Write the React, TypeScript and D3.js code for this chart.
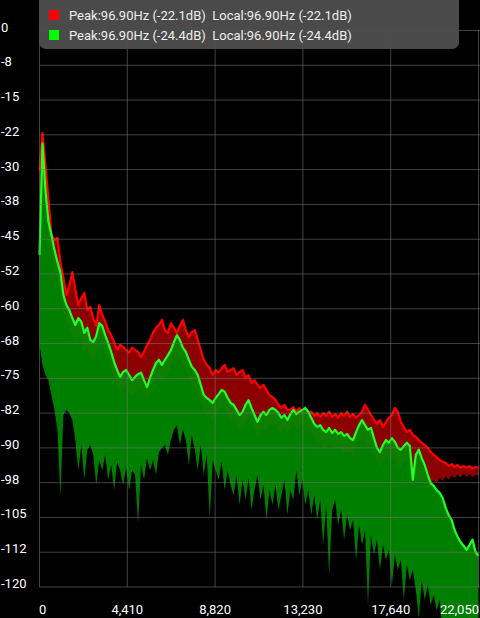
import React, { useEffect, useRef } from 'react';
import * as d3 from 'd3';

const W = 480;
const H = 618;

// FFT bins, 150 Hz apart (0 .. 22050 Hz)
const freqs = d3.range(0, 22051, 150);

// channel 1 (red): peak hold and lower edge of the band, dB
const redPeak = [
  -30.1, -22.1, -29.0, -36.5, -44.1, -45.2, -44.7, -49.9, -53.4, -57.0,
  -54.9, -52.1, -55.9, -59.2, -57.7, -56.6, -60.3, -59.6, -62.0, -63.7,
  -59.2, -61.3, -62.8, -64.6, -65.7, -67.2, -68.9, -67.8, -68.2, -68.9,
  -69.5, -68.4, -68.9, -69.3, -70.4, -69.3, -67.8, -66.7, -65.2, -64.1,
  -63.5, -62.4, -64.6, -65.2, -63.1, -64.1, -65.2, -63.7, -62.4, -64.6,
  -66.1, -65.0, -64.6, -66.7, -68.9, -71.0, -72.1, -72.8, -74.3, -73.2,
  -73.8, -72.8, -72.1, -73.6, -73.2, -72.8, -74.3, -73.6, -73.2, -74.9,
  -74.3, -76.0, -75.4, -76.4, -77.1, -76.4, -77.5, -78.6, -79.0, -79.7,
  -80.7, -81.4, -80.7, -81.8, -81.8, -81.2, -82.2, -81.4, -82.2, -81.8,
  -82.9, -82.2, -83.1, -82.5, -83.3, -82.5, -83.1, -82.2, -83.3, -82.7,
  -83.5, -82.5, -83.1, -82.2, -83.3, -82.7, -83.5, -82.9, -82.2, -80.7,
  -81.8, -82.9, -84.0, -84.8, -84.0, -85.5, -84.4, -83.5, -82.9, -81.4,
  -82.2, -84.4, -85.5, -86.6, -86.1, -87.2, -87.6, -88.3, -88.9, -89.4,
  -90.0, -90.9, -91.5, -92.0, -92.6, -93.0, -93.2, -93.9, -93.5, -94.1,
  -93.7, -94.3, -93.9, -94.3, -93.9, -94.5, -94.1, -94.3,
];
const redFloor = [
  -52, -30, -38, -45, -48, -51, -54, -56, -61, -63,
  -64, -66, -67, -66, -67, -69, -68, -70, -71, -70,
  -67, -68, -70, -71, -73, -75, -77, -78, -77, -77,
  -78, -79, -78, -78, -77, -79, -80, -78, -77, -75,
  -75, -76, -75, -74, -73, -71, -70, -71, -72, -73,
  -75, -76, -77, -78, -80, -82, -83, -83, -84, -83,
  -82, -81, -82, -83, -84, -84, -85, -86, -86, -84,
  -83, -85, -86, -88, -86, -86, -86, -85, -85, -85,
  -86, -87, -86, -87, -86, -85, -86, -86, -85, -85,
  -86, -87, -88, -89, -89, -90, -90, -89, -90, -90,
  -90, -90, -91, -91, -91, -92, -90, -89, -88, -89,
  -90, -89, -91, -93, -94, -93, -92, -93, -92, -92,
  -94, -94, -93, -93, -94, -97.5, -96.8, -97.2, -96.5, -97.4,
  -96.9, -97.8, -97.0, -97.6, -96.4, -97.1, -96.2, -96.8, -95.9, -96.5,
  -95.8, -96.4, -95.6, -96.2, -95.7, -96.3, -95.8, -96.0,
];

// channel 2 (green)
const greenPeak = [
  -48.4, -24.4, -34.4, -41.3, -44.1, -47.3, -49.9, -52.1, -57.0, -59.2,
  -60.3, -62.0, -63.5, -62.0, -62.8, -65.2, -64.1, -66.7, -67.2, -65.9,
  -63.1, -63.7, -65.7, -67.4, -69.3, -71.5, -73.2, -74.7, -73.6, -73.2,
  -74.3, -75.4, -74.7, -74.1, -73.8, -75.4, -76.9, -74.9, -73.2, -71.7,
  -71.0, -72.1, -71.0, -70.0, -68.9, -67.2, -65.7, -66.7, -68.4, -69.3,
  -71.0, -72.5, -73.2, -74.3, -76.4, -78.6, -79.2, -79.7, -80.3, -79.2,
  -78.4, -77.5, -77.9, -79.2, -80.3, -80.7, -81.8, -82.9, -82.2, -80.7,
  -79.7, -81.4, -82.9, -84.4, -82.9, -82.2, -82.9, -81.8, -81.4, -81.8,
  -82.5, -83.5, -82.9, -84.0, -82.7, -81.8, -82.7, -82.2, -81.8, -81.4,
  -82.2, -83.5, -84.8, -85.5, -85.1, -86.1, -86.6, -85.7, -86.8, -86.1,
  -87.0, -86.6, -87.4, -87.0, -87.9, -88.3, -86.6, -85.1, -84.0, -85.1,
  -86.1, -85.7, -87.9, -90.0, -90.9, -89.4, -88.3, -88.9, -87.9, -88.7,
  -90.0, -90.4, -89.6, -88.9, -89.6, -96.9, -91.5, -90.4, -92.2, -93.7,
  -95.8, -97.6, -98.2, -99.1, -99.7, -100.8, -102.9, -104.5, -105.5, -107.7,
  -109.2, -110.3, -111.1, -112.0, -110.9, -109.8, -112.4, -113.3,
];
const greenFloor = [
  -67.8, -72.1, -74.3, -75.4, -78.6, -81.8, -86.1, -100.6, -82.9, -81.8,
  -82.5, -84.0, -88.3, -94.8, -89.4, -96.9, -90.4, -89.4, -91.5, -98.0,
  -92.6, -94.8, -91.5, -96.9, -93.7, -99.1, -93.0, -94.8, -98.0, -94.3,
  -99.1, -94.8, -95.8, -106.2, -93.7, -96.9, -92.2, -94.8, -92.6, -95.8,
  -90.9, -90.0, -89.4, -91.5, -88.3, -86.1, -85.1, -89.4, -86.1, -88.3,
  -93.7, -87.2, -90.4, -94.8, -89.4, -95.8, -91.5, -105.1, -92.6, -94.8,
  -96.9, -93.0, -99.1, -94.8, -98.0, -100.2, -95.8, -102.3, -96.9, -101.2,
  -96.5, -103.4, -99.1, -95.8, -101.2, -98.0, -105.5, -99.1, -102.3, -98.0,
  -103.4, -100.2, -96.9, -104.5, -99.1, -101.2, -94.8, -100.2, -96.9, -102.3,
  -99.1, -104.5, -100.2, -105.5, -101.2, -110.9, -102.3, -117.4, -103.4, -101.2,
  -106.6, -103.4, -109.8, -104.5, -107.7, -105.5, -114.2, -106.6, -110.9, -107.7,
  -123.9, -108.8, -113.1, -109.8, -116.3, -110.9, -114.2, -112.0, -119.6, -113.1,
  -116.3, -114.2, -122.8, -115.2, -118.5, -116.3, -120.6, -126.7, -118.5, -122.8,
  -119.6, -123.9, -121.7, -125.0, -122.8, -130, -130, -130, -130, -130,
  -130, -130, -130, -130, -130, -130, -130, -130,
];

const xTicks = [0, 4410, 8820, 13230, 17640, 22050];
const xTickLabels = ['0', '4,410', '8,820', '13,230', '17,640', '22,050'];
const yTicks = [0, -7.5, -15, -22.5, -30, -37.5, -45, -52.5, -60, -67.5, -75, -82.5, -90, -97.5, -105, -112.5, -120];
const yTickLabels = ['0', '-8', '-15', '-22', '-30', '-38', '-45', '-52', '-60', '-68', '-75', '-82', '-90', '-98', '-105', '-112', '-120'];

const legendColors = ['#ff0000', '#00ff00'];
const legendLabels = [
  'Peak:96.90Hz (-22.1dB)  Local:96.90Hz (-22.1dB)',
  'Peak:96.90Hz (-24.4dB)  Local:96.90Hz (-24.4dB)',
];

const FONT = 'Roboto, "Noto Sans", sans-serif';

const App: React.FC = () => {
  const ref = useRef<SVGSVGElement>(null);

  useEffect(() => {
    if (!ref.current) return;
    const svg = d3.select(ref.current);
    svg.selectAll('*').remove();

    const x = d3.scaleLinear().domain([0, 22050]).range([39.5, 478.5]);
    const y = d3.scaleLinear().domain([0, -120]).range([30.5, 587]);

    svg.append('rect').attr('width', W).attr('height', H).attr('fill', '#000');

    const band = (lo: number[], hi: number[]) =>
      d3
        .area<number>()
        .x((d) => x(d))
        .y0((_, i) => y(lo[i]))
        .y1((_, i) => y(hi[i]))(freqs);
    const peakLine = (hi: number[]) =>
      d3
        .line<number>()
        .x((d) => x(d))
        .y((_, i) => y(hi[i]))(freqs);

    // red channel
    svg.append('path').attr('d', band(redFloor, redPeak)!).attr('fill', '#8b0000');
    svg
      .append('path')
      .attr('d', peakLine(redPeak)!)
      .attr('fill', 'none')
      .attr('stroke', '#ff0000')
      .attr('stroke-width', 2.2)
      .attr('stroke-linejoin', 'round');

    // green channel
    svg
      .append('path')
      .attr('d', band(greenFloor, greenPeak)!)
      .attr('fill', '#008c00')
      .attr('fill-opacity', 0.9);
    svg
      .append('path')
      .attr('d', peakLine(greenPeak)!)
      .attr('fill', 'none')
      .attr('stroke', '#22ff22')
      .attr('stroke-width', 2.2)
      .attr('stroke-linejoin', 'round');

    // grid
    const grid = svg.append('g').attr('stroke', 'rgba(120,120,120,0.55)').attr('stroke-width', 1);
    yTicks.forEach((t) => {
      grid.append('line').attr('x1', x(0)).attr('x2', W).attr('y1', y(t)).attr('y2', y(t));
    });
    xTicks.forEach((t) => {
      grid.append('line').attr('x1', x(t)).attr('x2', x(t)).attr('y1', y(0)).attr('y2', y(-120));
    });

    // y labels
    svg
      .append('g')
      .selectAll('text')
      .data(yTicks)
      .join('text')
      .attr('x', 1)
      .attr('y', (d) => y(d) + 1)
      .attr('fill', '#fff')
      .attr('font-family', FONT)
      .attr('font-size', 13)
      .text((_, i) => yTickLabels[i]);

    // x labels
    svg
      .append('g')
      .selectAll('text')
      .data(xTicks)
      .join('text')
      .attr('x', (d, i) => (i === 0 ? 39 : i === xTicks.length - 1 ? 479 : x(d)))
      .attr('y', 614)
      .attr('text-anchor', (_, i) => (i === 0 ? 'start' : i === xTicks.length - 1 ? 'end' : 'middle'))
      .attr('fill', '#fff')
      .attr('font-family', FONT)
      .attr('font-size', 13)
      .text((_, i) => xTickLabels[i]);

    // legend
    const legend = svg.append('g');
    legend
      .append('rect')
      .attr('x', 39)
      .attr('y', -6)
      .attr('width', 420)
      .attr('height', 55)
      .attr('rx', 7)
      .attr('fill', 'rgba(78,78,78,0.95)');
    legendLabels.forEach((label, i) => {
      legend
        .append('rect')
        .attr('x', 49)
        .attr('y', 10 + i * 20)
        .attr('width', 10)
        .attr('height', 10)
        .attr('fill', legendColors[i]);
      legend
        .append('text')
        .attr('x', 69)
        .attr('y', 20 + i * 20)
        .attr('fill', '#eeeeee')
        .attr('font-family', FONT)
        .attr('font-size', 13)
        .style('white-space', 'pre')
        .text(label);
    });
  }, []);

  return (
    <svg
      ref={ref}
      width={W}
      height={H}
      style={{ position: 'fixed', left: 0, top: 0, display: 'block' }}
    />
  );
};

export default App;
